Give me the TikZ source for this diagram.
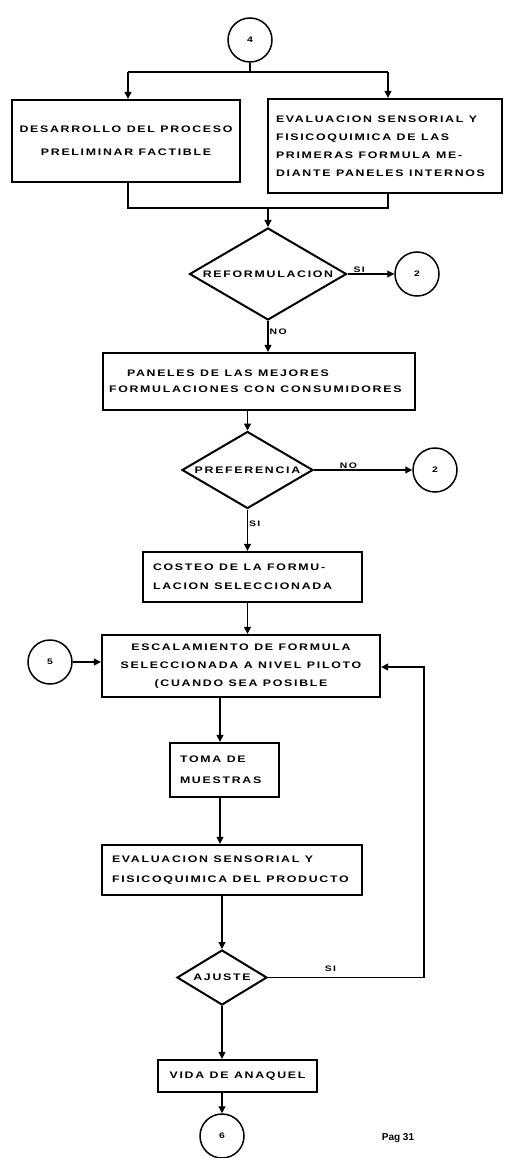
\documentclass[tikz,border=0pt]{standalone}
\usepackage{fontspec}
\newfontfamily\flowfont[FakeStretch=1.3,LetterSpace=18]{Liberation Sans}
\newfontfamily\pagefont{Liberation Sans}
\usetikzlibrary{shapes.geometric,arrows.meta}
\newcommand\flowtext[1]{\flowfont\bfseries\fontsize{#1}{19}\selectfont}
% wide gap between stencil-lettered words
\newcommand\wg{\hspace{5.5pt}}
\begin{document}
\begin{tikzpicture}[x=1pt,y=-1pt,
  every node/.style={font=\flowtext{9.5}},
  stepbox/.style={draw,line width=2.3pt,rectangle,inner ysep=0pt,minimum height=#1},
  decision/.style={draw,line width=2pt,diamond,inner sep=0pt},
  connector/.style={draw,line width=1.5pt,circle,inner sep=0pt,minimum size=44pt,font=\flowtext{8}},
  flow/.style={line width=1.2pt},
  arr/.style={flow,-{Triangle[width=7pt,length=7pt]}},
  tag/.style={font=\flowtext{8},inner sep=1pt}
]
\useasboundingbox (0,0) rectangle (504,1158);

% entry connector
\node[connector] (c4) at (250,40) {4};

% first pair of parallel activities
\node[stepbox=82pt,minimum width=228pt,align=center,text width=224pt,inner xsep=2pt] (bL) at (126,141)
  {DESARROLLO\wg DEL\wg PROCESO\\[4pt]PRELIMINAR\wg FACTIBLE};
\node[stepbox=94pt,minimum width=234pt,align=left,text width=218pt,inner xsep=8pt] (bR) at (385,146)
  {EVALUACION\wg SENSORIAL\wg Y\\[-1pt]FISICOQUIMICA\wg DE\wg LAS\\[-1pt]PRIMERAS\wg FORMULA\wg ME-\\[-1pt]DIANTE\wg PANELES\wg INTERNOS};

\coordinate (s1) at (250,72);
\coordinate (s1L) at (128,72);
\coordinate (s1R) at (388,72);
\coordinate (m1) at (268,208);
\coordinate (m1L) at (128,208);
\coordinate (m1R) at (388,208);

\draw[flow] (c4) -- (s1);
\draw[flow] (s1L) -- (s1R);
\draw[arr] (s1L) -- (s1L |- bL.north);
\draw[arr] (s1R) -- (s1R |- bR.north);
\draw[flow] (m1L |- bL.south) -- (m1L) -- (m1R) -- (m1R |- bR.south);

% reformulation decision
\node[decision,minimum width=157pt,minimum height=92pt] (d1) at (268,274) {\makebox[0pt]{REFORMULACION}};
\node[connector] (c2a) at (417,274) {2};
\draw[arr] (m1) -- (d1.north);
\draw[arr] (d1.east) -- (c2a.west) node[tag,pos=0.25,above] (t1) {SI};

% consumer panels
\node[stepbox=57pt,minimum width=312pt,align=left,text width=300pt,inner xsep=6pt] (bP) at (259,381.5)
  {\hspace*{18pt}PANELES\wg DE\wg LAS\wg MEJORES\\[-3pt]FORMULACIONES\wg CON\wg CONSUMIDORES};
\draw[arr] (d1.south) -- (d1.south |- bP.north) node[tag,pos=0.35,right] (t2) {NO};

% preference decision
\node[decision,minimum width=131pt,minimum height=77pt] (d2) at (247.5,470) {\makebox[0pt]{PREFERENCIA}};
\node[connector] (c2b) at (435,470) {2};
\draw[arr] (d2.north |- bP.south) -- (d2.north);
\draw[arr] (d2.east) -- (c2b.west) node[tag,pos=0.35,above] (t3) {NO};

% costing
\node[stepbox=50pt,minimum width=219pt,align=left,text width=199pt,inner xsep=10pt] (bC) at (252.5,577)
  {COSTEO\wg DE\wg LA\wg FORMU-\\LACION\wg SELECCIONADA};
\draw[arr] (d2.south) -- (d2.south |- bC.north) node[tag,pos=0.35,right] (t4) {SI};

% pilot scale-up
\node[stepbox=62pt,minimum width=278pt,align=center,text width=272pt,inner xsep=3pt] (bE) at (241,666)
  {ESCALAMIENTO\wg DE\wg FORMULA\\[-1pt]SELECCIONADA\wg A\wg NIVEL\wg PILOTO\\[-1pt](CUANDO\wg SEA\wg POSIBLE};
\node[connector] (c5) at (50,662) {5};
\draw[arr] (bC.south -| d2.south) -- (bE.north -| d2.south);
\draw[arr] (c5) -- (c5 -| bE.west);

% sampling
\node[stepbox=54pt,minimum width=109pt,align=left,text width=89pt,inner xsep=10pt] (bT) at (224.5,770)
  {TOMA\wg DE\\[2pt]MUESTRAS};
\coordinate (vx) at (220,0);
\draw[arr] (bE.south -| vx) -- (bT.north -| vx);

% product evaluation
\node[stepbox=50pt,minimum width=260pt,align=left,text width=240pt,inner xsep=10pt] (bV) at (232,870)
  {EVALUACION\wg SENSORIAL\wg Y\\[1pt]FISICOQUIMICA\wg DEL\wg PRODUCTO};
\draw[arr] (bT.south -| vx) -- (bV.north -| vx);

% adjustment decision
\node[decision,minimum width=90pt,minimum height=55pt] (d3) at (222,977.5) {\makebox[0pt]{AJUSTE}};
\draw[arr] (bV.south -| d3.north) -- (d3.north);
\coordinate (lpB) at (424,977.5);
\coordinate (lpT) at (424,667);
\draw[flow] (d3.east) -- (lpB) node[tag,pos=0.4,above=4pt] (t5) {SI};
\draw[arr] (lpB) -- (lpT) -- (lpT -| bE.east);

% shelf life
\node[stepbox=32pt,minimum width=159pt,align=center,text width=151pt,inner xsep=4pt] (bA) at (237.5,1076)
  {VIDA\wg DE\wg ANAQUEL};
\draw[arr] (d3.south) -- (d3.south |- bA.north);

% exit connector
\node[connector] (c6) at (222,1136) {6};
\draw[arr] (bA.south -| c6.north) -- (c6.north);

\node[font=\pagefont\bfseries\fontsize{10}{12}\selectfont] (pg) at (398,1138) {Pag 31};
\end{tikzpicture}
\end{document}
